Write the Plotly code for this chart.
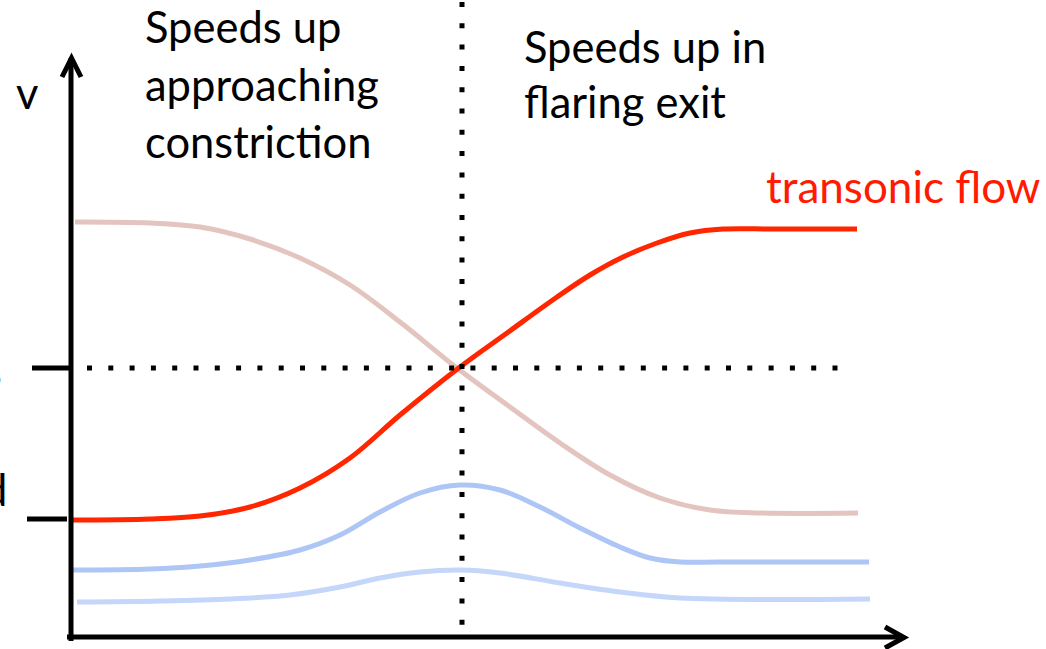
import plotly.graph_objects as go

# Position along the nozzle (horizontal pixels) and speed (vertical pixels, downward)
red_x = [72, 150, 200, 250, 300, 350, 400, 460, 507, 557, 590, 623, 657, 690, 723, 773, 857]
red_v = [520, 519, 516, 507, 488, 458, 415, 367, 333, 297, 275, 257, 243, 233, 229, 229, 229]

pink_x = [75, 150, 200, 250, 300, 350, 400, 457, 510, 560, 610, 660, 710, 760, 858]
pink_v = [222, 223, 227, 239, 258, 285, 322, 368, 407, 443, 475, 498, 510, 513, 513]

blue1_x = [72, 150, 200, 250, 300, 340, 380, 420, 460, 500, 540, 580, 620, 650, 680, 720, 869]
blue1_v = [570, 569, 566, 560, 550, 535, 512, 493, 485, 490, 507, 528, 547, 558, 562, 562, 562]

blue2_x = [77, 160, 230, 290, 340, 380, 420, 460, 500, 560, 620, 680, 870]
blue2_v = [602, 601, 599, 595, 587, 578, 572, 570, 573, 583, 592, 598, 599]

# Reference levels on the speed axis
sonic_level = 368
entry_level = 519
throat_x = 462

fig = go.Figure()

curves = [
    (pink_x, pink_v, "#E3C4BF"),
    (blue2_x, blue2_v, "#C4D6F9"),
    (blue1_x, blue1_v, "#ADC6F6"),
    (red_x, red_v, "#FF2600"),
]
for xs, vs, col in curves:
    fig.add_trace(go.Scatter(
        x=xs, y=vs, mode="lines",
        line=dict(color=col, width=5, shape="spline", smoothing=1),
        hoverinfo="skip",
    ))

shapes = []
# dotted throat line and sonic level line
shapes.append(dict(type="line", x0=throat_x, x1=throat_x, y0=2, y1=640,
                   line=dict(color="black", width=5, dash="5px,16.3px")))
shapes.append(dict(type="line", x0=87, x1=842, y0=sonic_level, y1=sonic_level,
                   line=dict(color="black", width=5, dash="5px,16.3px")))
# axes with open arrowheads
shapes.append(dict(type="line", x0=71, x1=71, y0=641, y1=58,
                   line=dict(color="black", width=5)))
shapes.append(dict(type="path", path="M 62,77 L 71.5,58 L 81,77",
                   line=dict(color="black", width=5)))
shapes.append(dict(type="line", x0=67, x1=903, y0=637, y1=637,
                   line=dict(color="black", width=5)))
shapes.append(dict(type="path", path="M 885,627 L 904,637.5 L 885,648",
                   line=dict(color="black", width=5)))
# level ticks on the speed axis
shapes.append(dict(type="line", x0=32, x1=71, y0=sonic_level, y1=sonic_level,
                   line=dict(color="black", width=5)))
shapes.append(dict(type="line", x0=27, x1=67, y0=entry_level, y1=entry_level,
                   line=dict(color="black", width=5)))
for s in shapes:
    s.update(xref="x", yref="y", layer="above")

FONT = "Lato"
ann = []
def label(text, x, y, size=43.5, color="black", xanchor="left", yanchor="bottom"):
    ann.append(dict(text=text, x=x, y=y, xref="x", yref="y", showarrow=False,
                    xanchor=xanchor, yanchor=yanchor,
                    font=dict(family=FONT, size=size, color=color)))

label("Speeds up", 143, 54)
label("approaching", 143, 112)
label("constriction", 143, 169)
label("Speeds up in", 522, 74)
label("flaring exit", 522, 129)
label("transonic flow", 1042, 214, size=44, color="#FF1A00", xanchor="right")
label("v", 14, 120)
label("s", 4, 398, xanchor="right")
label("d", 9, 517, xanchor="right")

fig.update_layout(
    width=1046, height=649,
    margin=dict(l=0, r=0, t=0, b=0),
    paper_bgcolor="white", plot_bgcolor="white",
    showlegend=False,
    xaxis=dict(range=[0, 1046], visible=False, fixedrange=True),
    yaxis=dict(range=[649, 0], visible=False, fixedrange=True),
    shapes=shapes,
    annotations=ann,
)

fig.write_html("out.html")
